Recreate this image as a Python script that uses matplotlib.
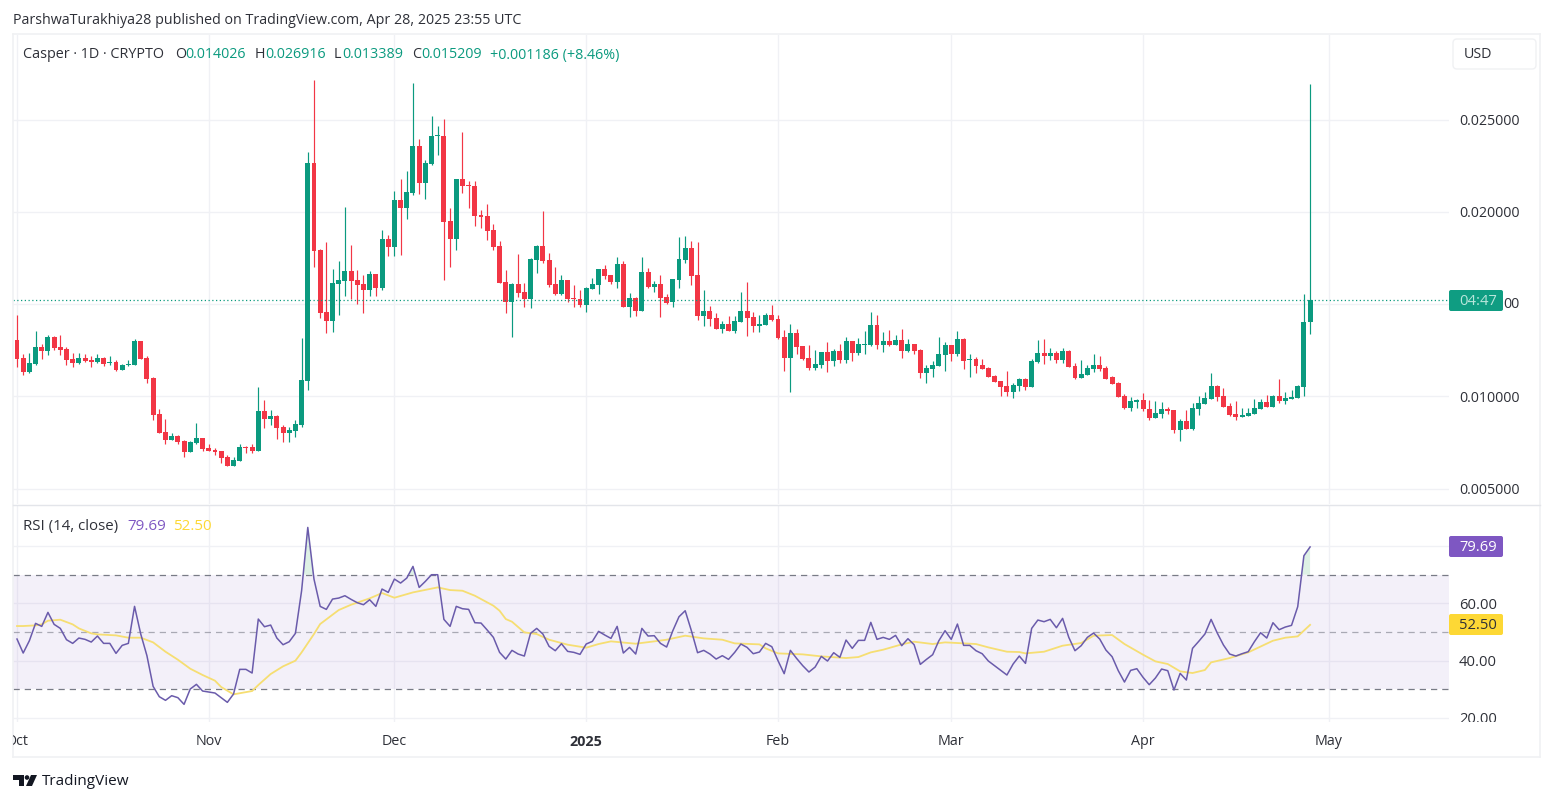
"""Casper 1D candlestick chart with RSI pane, TradingView snapshot look."""

import numpy as np
import matplotlib
matplotlib.use("Agg")
import matplotlib.pyplot as plt
from matplotlib.patches import FancyBboxPatch, Polygon, Circle, Rectangle

plt.rcParams.update({
    "font.family": ["Open Sans", "DejaVu Sans"],
    "font.size": 10.3,
})

# Prices in thousandths of a USD, one row of ten per line, first bar is 1 Oct 2024
opens = [
    13.05, 12.08, 11.30, 11.74, 12.67, 12.46, 13.24, 12.67, 12.57, 12.02,
    11.81, 12.08, 11.97, 11.86, 12.08, 11.81, 11.86, 11.43, 11.70, 11.70,
    13.00, 12.08, 10.99, 9.05, 8.07, 7.64, 7.85, 7.58, 6.99, 7.47,
    7.74, 7.20, 7.09, 7.04, 6.72, 6.23, 6.50, 7.26, 7.26, 7.04,
    9.21, 8.77, 8.94, 8.34, 8.02, 8.13, 8.45, 10.83, 22.64, 17.93,
    14.57, 14.08, 16.09, 16.25, 16.79, 16.30, 16.09, 15.76, 16.63, 15.87,
    18.53, 18.09, 20.64, 20.21, 21.02, 23.56, 21.56, 22.59, 24.11, 24.11,
    19.50, 18.53, 21.78, 21.45, 21.40, 19.83, 19.77, 19.01, 18.15, 16.20,
    15.11, 16.09, 15.66, 15.28, 17.39, 18.15, 17.39, 16.09, 15.55, 16.30,
    15.33, 15.28, 14.95, 15.82, 16.03, 16.90, 16.58, 16.20, 17.17, 14.84,
    15.33, 14.63, 16.74, 15.93, 16.09, 15.39, 15.11, 16.30, 17.39, 18.04,
    16.58, 14.36, 14.63, 14.25, 13.65, 13.92, 13.54, 14.03, 14.63, 14.30,
    13.81, 13.87, 14.41, 14.19, 13.22, 12.08, 13.43, 12.73, 12.08, 11.54,
    11.70, 12.41, 11.92, 12.46, 11.97, 13.00, 12.35, 12.78, 12.78, 13.87,
    12.78, 13.00, 12.78, 13.06, 12.46, 12.84, 12.51, 11.27, 11.48, 11.65,
    12.24, 12.78, 12.30, 13.11, 11.97, 12.03, 11.70, 11.54, 11.11, 10.83,
    10.56, 10.24, 10.56, 10.94, 10.51, 11.86, 12.35, 12.19, 12.35, 11.97,
    12.46, 11.65, 11.00, 11.16, 11.48, 11.70, 11.54, 11.05, 10.73, 10.02,
    9.37, 9.70, 9.81, 9.32, 8.83, 9.05, 9.32, 9.26, 8.18, 8.67,
    8.23, 9.32, 9.59, 9.86, 10.56, 10.02, 9.48, 9.05, 8.88, 8.94,
    9.05, 9.32, 9.70, 9.43, 10.02, 9.75, 9.86, 9.91, 10.51, 14.03,
]
highs = [
    14.41, 12.29, 12.35, 13.54, 12.84, 13.32, 13.29, 13.32, 12.67, 12.35,
    12.35, 12.29, 12.19, 12.29, 12.13, 12.19, 11.97, 11.75, 11.97, 13.11,
    13.00, 12.19, 11.05, 9.32, 8.77, 8.02, 7.91, 7.64, 7.58, 8.56,
    7.74, 7.42, 7.20, 7.04, 6.82, 6.72, 7.42, 7.31, 7.42, 10.51,
    9.80, 9.26, 8.99, 8.45, 8.34, 8.72, 13.16, 23.24, 27.14, 17.98,
    18.36, 16.90, 17.34, 20.26, 18.20, 16.85, 16.58, 16.79, 16.63, 19.01,
    18.74, 21.13, 21.78, 22.21, 26.98, 23.94, 22.81, 25.19, 24.65, 25.03,
    20.21, 21.78, 24.32, 21.67, 21.67, 20.10, 20.42, 19.34, 18.42, 16.85,
    16.14, 17.71, 16.14, 17.50, 18.20, 20.04, 17.77, 17.01, 16.58, 16.30,
    16.03, 15.76, 15.93, 16.41, 16.90, 17.12, 16.58, 17.55, 17.34, 15.60,
    15.39, 17.55, 16.95, 16.25, 16.58, 15.55, 16.36, 18.64, 18.69, 18.42,
    18.36, 15.76, 14.90, 14.52, 14.08, 14.36, 14.36, 15.66, 16.20, 14.57,
    14.41, 14.52, 14.95, 14.41, 13.60, 13.92, 13.65, 12.73, 12.78, 12.51,
    12.41, 12.95, 12.57, 12.84, 13.22, 13.00, 13.16, 13.54, 14.57, 14.41,
    13.49, 13.60, 13.33, 13.65, 13.11, 12.84, 12.57, 11.70, 11.92, 13.22,
    12.95, 12.78, 13.54, 13.16, 12.30, 12.13, 12.03, 11.59, 11.16, 10.83,
    11.38, 10.73, 11.00, 11.00, 12.03, 13.06, 13.11, 12.62, 12.46, 12.62,
    12.51, 11.81, 11.97, 11.70, 12.30, 12.19, 11.65, 11.11, 10.78, 10.13,
    9.97, 9.86, 10.18, 9.81, 9.75, 9.70, 9.43, 9.26, 8.78, 9.26,
    9.64, 10.02, 10.24, 11.27, 10.62, 10.46, 9.64, 9.75, 9.37, 9.37,
    9.86, 9.86, 10.08, 10.08, 10.94, 10.24, 10.35, 10.62, 15.55, 26.92,
]
lows = [
    11.59, 11.16, 11.27, 11.70, 12.02, 12.24, 12.53, 12.24, 11.70, 11.59,
    11.75, 11.86, 11.59, 11.81, 11.65, 11.70, 11.38, 11.43, 11.65, 11.70,
    12.02, 10.72, 8.72, 8.02, 7.42, 7.64, 7.42, 6.72, 6.99, 7.42,
    7.04, 7.04, 6.82, 6.39, 6.23, 6.23, 6.50, 6.93, 6.93, 7.04,
    8.29, 8.45, 7.69, 7.53, 7.53, 7.80, 8.34, 10.35, 17.01, 14.25,
    13.44, 13.49, 14.41, 15.44, 15.28, 15.01, 14.52, 15.44, 15.44, 15.76,
    17.61, 17.61, 17.66, 19.61, 20.91, 20.96, 20.69, 22.54, 23.08, 16.30,
    17.01, 17.93, 21.02, 20.21, 19.23, 19.12, 18.47, 17.93, 16.14, 14.52,
    13.22, 15.39, 14.84, 14.79, 16.68, 17.23, 15.93, 15.49, 15.49, 15.11,
    14.84, 14.84, 14.57, 15.82, 15.55, 16.36, 16.09, 15.87, 14.84, 14.30,
    14.36, 14.63, 15.87, 15.66, 14.30, 15.01, 14.84, 15.87, 17.23, 16.03,
    14.14, 13.81, 13.81, 13.65, 13.44, 13.54, 13.44, 14.03, 13.27, 13.49,
    13.49, 13.87, 14.08, 13.11, 11.38, 10.24, 12.30, 11.97, 11.43, 11.43,
    11.54, 11.32, 11.65, 11.81, 11.81, 11.92, 12.24, 12.30, 12.73, 12.57,
    12.41, 12.73, 12.78, 12.08, 12.41, 12.30, 11.00, 10.73, 11.05, 11.65,
    11.38, 11.92, 12.19, 11.48, 11.05, 11.27, 11.48, 11.05, 10.78, 10.02,
    10.02, 9.91, 10.29, 10.35, 10.51, 11.81, 11.76, 11.97, 11.81, 11.81,
    11.59, 10.94, 11.00, 11.16, 11.32, 11.38, 10.94, 10.67, 9.97, 9.32,
    9.21, 9.37, 9.21, 8.72, 8.83, 8.83, 9.05, 8.02, 7.58, 8.23,
    8.18, 8.99, 9.59, 9.86, 9.75, 9.43, 8.94, 8.72, 8.88, 8.94,
    9.05, 9.32, 9.43, 9.43, 9.64, 9.59, 9.86, 9.91, 10.02, 13.39,
]
closes = [
    12.02, 11.32, 11.81, 12.67, 12.46, 13.22, 12.62, 12.51, 11.97, 11.81,
    12.08, 11.92, 11.86, 12.08, 11.75, 11.86, 11.43, 11.70, 11.75, 13.00,
    12.02, 10.94, 8.99, 8.02, 7.64, 7.85, 7.53, 6.99, 7.53, 7.74,
    7.15, 7.04, 6.99, 6.66, 6.23, 6.55, 7.26, 7.20, 7.04, 9.21,
    8.77, 8.94, 8.29, 8.02, 8.18, 8.50, 10.89, 22.64, 17.88, 14.52,
    14.08, 16.14, 16.30, 16.79, 16.25, 16.03, 15.76, 16.63, 15.87, 18.53,
    18.09, 20.64, 20.21, 21.07, 23.56, 21.56, 22.64, 24.11, 24.16, 19.45,
    18.53, 21.78, 21.40, 21.40, 19.77, 19.72, 18.96, 18.09, 16.14, 15.11,
    16.09, 15.60, 15.28, 17.44, 18.15, 17.34, 16.03, 15.55, 16.30, 15.28,
    15.28, 14.95, 15.87, 16.09, 16.90, 16.52, 16.20, 17.17, 14.84, 15.33,
    14.63, 16.74, 15.93, 16.09, 15.33, 15.06, 16.36, 17.44, 18.04, 16.52,
    14.36, 14.63, 14.19, 13.65, 13.92, 13.54, 14.08, 14.63, 14.25, 13.81,
    13.92, 14.41, 14.14, 13.15, 12.08, 13.43, 12.68, 12.03, 11.54, 11.76,
    12.41, 11.92, 12.46, 11.97, 13.00, 12.35, 12.84, 12.84, 13.87, 12.78,
    13.00, 12.78, 13.06, 12.46, 12.84, 12.46, 11.27, 11.54, 11.70, 12.30,
    12.78, 12.30, 13.11, 11.92, 12.03, 11.65, 11.48, 11.05, 10.78, 10.51,
    10.24, 10.62, 10.94, 10.51, 11.92, 12.35, 12.19, 12.35, 11.97, 12.46,
    11.59, 11.00, 11.21, 11.54, 11.70, 11.48, 10.94, 10.67, 9.97, 9.37,
    9.75, 9.81, 9.32, 8.83, 9.10, 9.32, 9.21, 8.18, 8.67, 8.23,
    9.37, 9.64, 9.91, 10.56, 9.97, 9.43, 8.99, 8.88, 8.99, 9.10,
    9.37, 9.70, 9.43, 10.02, 9.75, 9.91, 9.97, 10.56, 14.03, 15.21,
]

rsi = [
    47.55, 42.67, 46.97, 53.02, 51.97, 56.85, 52.67, 51.27, 47.32, 46.04,
    47.90, 47.44, 46.50, 48.60, 46.04, 46.04, 42.55, 45.34, 46.04, 58.95,
    49.30, 41.74, 31.04, 27.43, 26.16, 27.78, 27.09, 24.76, 30.11, 31.74,
    29.41, 29.06, 28.71, 27.09, 25.46, 28.37, 36.97, 36.97, 35.69, 54.53,
    51.85, 52.43, 47.90, 45.57, 46.62, 49.53, 64.41, 86.50, 68.48, 58.95,
    57.90, 61.50, 61.85, 62.67, 61.39, 60.23, 59.53, 61.27, 58.95, 65.00,
    63.83, 68.48, 67.09, 68.83, 72.90, 65.57, 67.67, 70.00, 70.00, 54.41,
    51.97, 58.95, 58.13, 57.90, 53.25, 53.13, 50.69, 48.13, 42.90, 40.57,
    43.60, 42.32, 41.62, 49.53, 51.27, 49.30, 45.00, 43.48, 45.92, 43.25,
    42.90, 42.20, 45.81, 46.74, 50.23, 48.95, 47.78, 51.97, 42.67, 44.64,
    42.32, 51.27, 48.60, 48.72, 46.04, 44.76, 50.46, 55.34, 57.43, 50.46,
    42.78, 43.60, 42.32, 40.57, 41.74, 40.46, 42.90, 45.81, 44.64, 42.43,
    43.02, 46.04, 44.88, 40.00, 35.46, 43.60, 40.81, 38.25, 36.04, 37.78,
    41.50, 39.88, 42.78, 41.16, 47.20, 44.30, 47.09, 47.09, 53.37, 47.44,
    48.13, 47.44, 48.83, 45.23, 47.67, 45.57, 38.71, 40.46, 42.09, 46.97,
    50.46, 47.44, 52.78, 45.34, 45.34, 43.48, 42.43, 39.88, 38.25, 36.62,
    35.00, 38.83, 41.62, 39.06, 51.27, 54.18, 53.60, 54.41, 51.50, 54.76,
    48.13, 43.48, 45.23, 48.13, 49.64, 47.55, 43.71, 41.39, 36.50, 32.55,
    36.62, 37.20, 34.18, 31.62, 33.95, 37.08, 36.50, 29.76, 35.57, 33.25,
    44.30, 46.74, 49.30, 54.41, 49.64, 45.46, 42.32, 41.62, 42.43, 43.13,
    46.62, 49.76, 47.90, 53.25, 50.81, 51.74, 52.32, 58.83, 76.62, 79.69,
]

rsi_ma_bars = [
    0, 1, 3, 4, 5, 7, 9, 10, 12, 13, 16, 18, 20, 22, 24, 26, 28, 30, 32, 33,
    35, 38, 39, 41, 43, 45, 46, 48, 49, 52, 54, 57, 59, 61, 64, 68, 70, 72, 74, 77,
    78, 79, 80, 82, 84, 86, 89, 92, 94, 96, 100, 103, 105, 108, 111, 114, 116, 120, 121, 123,
    127, 130, 134, 136, 138, 140, 143, 145, 148, 150, 155, 157, 160, 162, 163, 166, 169, 172, 174, 177,
    179, 182, 184, 186, 188, 190, 192, 193, 196, 199, 203, 205, 207, 209,
]
rsi_ma = [
    52.09, 52.09, 52.32, 52.67, 53.95, 54.30, 52.67, 51.27, 49.53, 49.18,
    48.83, 48.02, 48.02, 46.39, 43.13, 40.34, 37.20, 35.00, 33.02, 30.81,
    28.25, 29.41, 31.50, 35.34, 38.02, 40.00, 42.90, 49.30, 52.79, 57.67,
    59.53, 61.74, 63.60, 61.97, 63.83, 65.58, 64.64, 64.41, 62.67, 59.18,
    57.43, 54.53, 53.60, 49.88, 49.30, 47.32, 45.58, 44.53, 45.81, 46.74,
    45.92, 46.74, 47.32, 48.72, 47.78, 47.32, 46.04, 45.69, 44.30, 42.55,
    42.20, 41.50, 40.92, 41.27, 42.90, 43.83, 45.69, 46.62, 45.81, 46.39,
    45.81, 44.64, 43.13, 43.02, 42.55, 43.13, 45.23, 46.16, 48.72, 48.95,
    45.81, 42.09, 39.76, 38.83, 36.27, 35.69, 36.74, 39.41, 40.92, 42.90,
    46.97, 48.02, 48.48, 52.50,
]

month_bars = [0, 31, 61, 92, 123, 151, 182, 212]
month_labels = ["Oct", "Nov", "Dec", "2025", "Feb", "Mar", "Apr", "May"]
price_ticks = [5, 10, 20, 25]
price_grid = [5, 10, 15, 20, 25]
rsi_ticks = [20, 40, 60, 80]
rsi_labels = ["20.00", "40.00", "60.00"]
last_close = closes[-1]

GREEN = "#0b9a7f"
RED = "#f23645"
GRID = "#f0f1f5"
TEXT = "#2e3038"
PURPLE = "#7e57c2"
YELLOW = "#fdd835"

W, H = 1553, 803
PAD_L, PAD_R = 13, 1449


def pane(top, bottom, y_top, y_bottom):
    ax = fig.add_axes([PAD_L / W, 1 - bottom / H, (PAD_R - PAD_L) / W, (bottom - top) / H])
    ax.set_xlim((PAD_L - 17) / 6.187, (PAD_R - 17) / 6.187)
    ax.set_ylim(y_bottom, y_top)
    ax.set_xticks(month_bars)
    ax.tick_params(length=0, labelbottom=False, labelleft=False)
    ax.grid(True, color=GRID, lw=1)
    ax.set_axisbelow(True)
    for s in ax.spines.values():
        s.set_visible(False)
    return ax


fig = plt.figure(figsize=(W / 100, H / 100), dpi=100, facecolor="white")

# price pane
ax = pane(36, 505, 29.58, 4.17)
ax.set_yticks(price_grid)
days = np.arange(len(opens))
o, h, l, c = map(np.array, (opens, highs, lows, closes))
colors = np.where(c >= o, GREEN, RED)
ax.vlines(days, l, h, colors=colors, lw=0.85, zorder=2)
ax.bar(days, np.maximum(np.abs(c - o), 0.05), bottom=np.minimum(o, c), width=0.8,
       color=colors, lw=0, zorder=3)
ax.axhline(last_close, color=GREEN, ls=(0, (1, 2)), lw=0.9, zorder=4)

# rsi pane
ax2 = pane(507, 723, 93.98, 18.6)
ax2.set_yticks(rsi_ticks)
ax2.axhspan(30, 70, color=PURPLE, alpha=0.085, lw=0, zorder=1)
ax2.axhline(70, color="#787b86", ls=(0, (5, 4)), lw=0.9, zorder=2)
ax2.axhline(50, color="#787b86", ls=(0, (5, 4)), lw=0.9, alpha=0.6, zorder=2)
ax2.axhline(30, color="#787b86", ls=(0, (5, 4)), lw=0.9, zorder=2)
rsi_arr = np.array(rsi)
ax2.fill_between(days, 70, rsi_arr, where=rsi_arr > 70, interpolate=True,
                 color="#7fc89a", alpha=0.25, lw=0, zorder=2)
ax2.plot(rsi_ma_bars, rsi_ma, color="#f6de72", lw=1.3, zorder=3)
ax2.plot(days, rsi_arr, color="#6a5bab", lw=1.1, zorder=4)

# page furniture drawn in pixel coordinates
page = fig.add_axes([0, 0, 1, 1], zorder=10)
page.set_xlim(0, W)
page.set_ylim(H, 0)
page.axis("off")
page.patch.set_alpha(0)


def label(x, y, s, color=TEXT, ha="left", size=10.3, weight="normal", clip=None):
    t = page.text(x, y + 1, s, color=color, ha=ha, va="center", fontsize=size, fontweight=weight, zorder=6)
    if clip is not None:
        t.set_clip_path(Rectangle(clip[:2], clip[2], clip[3], transform=page.transData))
        t.set_clip_on(True)
    return t


# frame around the chart
for xs, ys in [((13, 13), (35, 758)), ((1540, 1540), (35, 758)), ((13, 1540), (35, 35)), ((13, 1540), (758, 758))]:
    page.plot(xs, ys, color="#f0f1f3", lw=1.2, zorder=1)
page.plot((13, 1540), (506, 506), color="#e3e5ea", lw=1, zorder=1)

label(13, 20, "ParshwaTurakhiya28 published on TradingView.com, Apr 28, 2025 23:55 UTC")

label(23, 54, "Casper · 1D · CRYPTO", size=10.4)
for x_k, key, x_v, val in [(175, "O", 185, "0.014026"), (255, "H", 265, "0.026916"),
                           (334, "L", 342, "0.013389"), (412, "C", 421, "0.015209")]:
    label(x_k, 54, key)
    label(x_v, 54, val, color=GREEN)
label(490, 54, "+0.001186 (+8.46%)", color=GREEN)

page.add_patch(FancyBboxPatch((1453, 40), 83, 30, boxstyle="round,pad=0,rounding_size=4",
                              fc="white", ec="#f0f1f3", lw=1))
label(1464, 54, "USD")

label(23, 526, "RSI (14, close)", size=10.8)
label(127, 526, "79.69", color=PURPLE, size=10.9)
label(173, 526, "52.50", color=YELLOW, size=10.9)

# y axis labels; the 0.015000 label sits behind the countdown tag, only its tail shows
for tick in price_ticks:
    y = ax.transData.transform((0, tick))[1]
    label(1520, H - y, f"{tick / 1000:.6f}", ha="right")
label(1520, 304, "00", ha="right")
for tick, text in zip(rsi_ticks, rsi_labels):
    y = ax2.transData.transform((0, tick))[1]
    label(1497, H - y, text, ha="right", size=10.6, clip=(1449, 507, 90, 216))

# last value tags
for y0, y1, colr, text, tc in [(291, 312, "#0f9d82", "04:47", "#b9e6db"),
                               (537, 558, PURPLE, "79.69", "white"),
                               (615, 636, YELLOW, "52.50", TEXT)]:
    page.add_patch(FancyBboxPatch((1449, y0), 54, y1 - y0, boxstyle="round,pad=0,rounding_size=2",
                                  fc=colr, ec="none", zorder=5))
    label(1497, (y0 + y1) / 2 - 0.5, text, color=tc, ha="right", size=10.6)

# time axis
for bar, text in zip(month_bars, month_labels):
    x = ax.transData.transform((bar, 0))[0]
    label(x, 741, text, ha="center", weight="bold" if text == "2025" else "normal", clip=(13, 730, 1440, 25))

# TradingView logo and wordmark
page.add_patch(Polygon([(13, 776), (24, 776), (24, 787), (19, 787), (19, 781), (13, 781)], fc="#131722", ec="none"))
page.add_patch(Circle((27, 778.5), 2.3, fc="#131722", ec="none"))
page.add_patch(Polygon([(31, 776), (37, 776), (32, 787), (26, 787)], fc="#131722", ec="none"))
label(42, 781, "TradingView", color="#131722", size=11)

fig.savefig("out.png", dpi=100)
